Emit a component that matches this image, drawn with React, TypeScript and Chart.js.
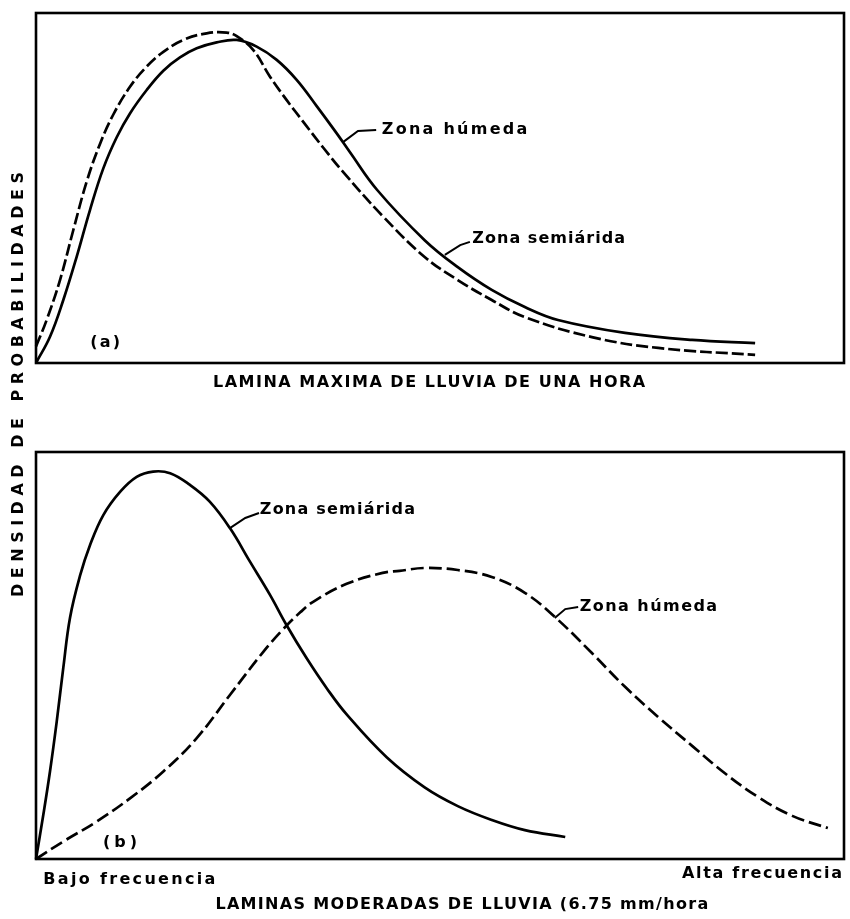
import React, { useEffect, useRef } from "react";
import { Chart, registerables } from "chart.js";

Chart.register(...registerables);

const PAGE_W = 850;
const PAGE_H = 919;

// ---------- Panel (a): lámina máxima de lluvia de una hora ----------
const humedaA_x = [0, 1.73, 3.38, 5.04, 6.68, 8.33, 9.99, 11.63, 13.7, 15.76, 17.82, 19.89, 22.36, 24.84, 27.31, 29.79, 32.26, 34.74, 37.22, 38.86, 42.2, 48.1, 52.2, 56.4, 60.5, 64.6, 72.9, 81.2, 89.0];
const humedaA_y = [0, 7.5, 18.0, 30.4, 43.7, 55.6, 64.5, 71.3, 78.0, 83.5, 87.3, 89.9, 91.6, 92.3, 90.4, 86.6, 80.9, 73.4, 65.6, 60.2, 49.5, 35.1, 27.4, 20.9, 16, 12.3, 8.6, 6.6, 5.7];

const semiaridaA_x = [0, 1.32, 2.97, 4.62, 6.27, 7.92, 9.57, 11.63, 13.7, 15.76, 18.23, 21.12, 23.6, 24.84, 26.9, 28.96, 31.03, 33.08, 35.56, 38.0, 42.9, 48.1, 52.2, 56.4, 60.5, 68.8, 77.0, 89.0];
const semiaridaA_y = [4.7, 12.3, 23.7, 38, 51.8, 62.6, 71.0, 78.9, 84.7, 88.9, 92.3, 94.2, 94.4, 93.4, 89.4, 81.8, 75.1, 68.9, 61.5, 54.6, 42.0, 30.3, 23.7, 18, 13.1, 7.4, 4.3, 2.3];

// ---------- Panel (b): láminas moderadas de lluvia ----------
const semiaridaB_x = [0, 0.9, 1.73, 2.56, 3.38, 4.21, 5.45, 6.68, 8.33, 10.4, 12.46, 14.5, 16.6, 19.06, 21.5, 24.0, 26.5, 28.96, 31.0, 33.5, 36.0, 38.5, 43.4, 48.1, 52.2, 56.4, 60.5, 65.5];
const semiaridaB_y = [0, 10.8, 21.5, 33.7, 47.0, 59.3, 69.6, 77.1, 84.5, 90.2, 93.9, 95.2, 94.8, 91.9, 87.8, 81.3, 73.0, 64.9, 57.5, 49.3, 41.9, 35.4, 25.0, 17.6, 13.0, 9.6, 7.1, 5.4];

const humedaB_x = [0, 3.38, 7.51, 11.63, 15.76, 19.89, 24.0, 28.13, 30.6, 32.7, 34.3, 38.45, 42.9, 45.0, 48.1, 52.2, 56.4, 60.5, 64.2, 68.8, 72.9, 77.0, 81.2, 85.3, 89.4, 93.6, 98.0];
const humedaB_y = [0, 4.3, 9.2, 14.9, 21.5, 29.7, 40.3, 50.9, 56.5, 60.6, 63.2, 67.6, 70.3, 70.8, 71.5, 71, 69.3, 65.4, 59.5, 50.6, 42.3, 34.9, 27.8, 21.0, 15.2, 10.6, 7.6];

// ---------- Texts ----------
const labelHumeda = "Zona húmeda";
const labelSemiarida = "Zona semiárida";
const tagA = "(a)";
const tagB = "(b)";
const xTitleA = "LAMINA MAXIMA DE LLUVIA DE UNA HORA";
const xTitleB = "LAMINAS MODERADAS DE LLUVIA (6.75 mm/hora";
const lowFreq = "Bajo frecuencia";
const highFreq = "Alta frecuencia";
const yTitle = "DENSIDAD DE PROBABILIDADES";

const FONT = "'DejaVu Sans', 'Liberation Sans', sans-serif";

type Label = { text: string; x0: number; x1: number; y: number; size: number };
type Leader = { pts: [number, number][] };

function fitText(ctx: CanvasRenderingContext2D, text: string, x0: number, x1: number, y: number, size: number) {
  ctx.save();
  ctx.font = `bold ${size}px ${FONT}`;
  (ctx as any).letterSpacing = "0px";
  const w = ctx.measureText(text).width;
  const n = Array.from(text).length;
  const sp = n > 1 ? (x1 - x0 - w) / (n - 1) : 0;
  (ctx as any).letterSpacing = `${sp}px`;
  ctx.fillStyle = "#000";
  ctx.textAlign = "left";
  ctx.textBaseline = "middle";
  ctx.fillText(text, x0, y);
  ctx.restore();
}

const panelPlugin = {
  id: "panel",
  afterDraw(chart: any, _args: any, opts: any) {
    const ctx: CanvasRenderingContext2D = chart.ctx;
    const { left, right, top, bottom } = chart.chartArea;
    const xs = chart.scales.x;
    const ys = chart.scales.y;
    ctx.save();
    ctx.strokeStyle = "#000";
    ctx.lineWidth = 2.6;
    ctx.setLineDash([]);
    ctx.strokeRect(left, top, right - left, bottom - top);

    ctx.lineWidth = 2;
    (opts.leaders || []).forEach((l: Leader) => {
      ctx.beginPath();
      l.pts.forEach(([x, y], i) => {
        const px = xs.getPixelForValue(x);
        const py = ys.getPixelForValue(y);
        if (i === 0) ctx.moveTo(px, py);
        else ctx.lineTo(px, py);
      });
      ctx.stroke();
    });
    ctx.restore();

    (opts.labels || []).forEach((lb: Label) => {
      fitText(ctx, lb.text, xs.getPixelForValue(lb.x0), xs.getPixelForValue(lb.x1), ys.getPixelForValue(lb.y), lb.size);
    });

    if (opts.rotated) {
      const r = opts.rotated;
      ctx.save();
      ctx.translate(r.x, r.yBottom);
      ctx.rotate(-Math.PI / 2);
      fitText(ctx, r.text, 0, r.yBottom - r.yTop, 0, r.size);
      ctx.restore();
    }
  },
};

function pts(xs: number[], ys: number[]) {
  return xs.map((x, i) => ({ x, y: ys[i] }));
}

function lineDs(label: string, xs: number[], ys: number[], dash: number[]) {
  return {
    label,
    data: pts(xs, ys),
    borderColor: "#000",
    backgroundColor: "#000",
    borderWidth: 2.7,
    borderDash: dash,
    pointRadius: 0,
    tension: 0.4,
    fill: false,
    clip: false as any,
  };
}

function makeConfig(datasets: any[], padding: any, panelOpts: any) {
  return {
    type: "line" as const,
    data: { datasets },
    options: {
      animation: false as const,
      responsive: false,
      devicePixelRatio: 1,
      events: [],
      layout: { padding },
      scales: {
        x: { type: "linear" as const, min: 0, max: 100, display: false },
        y: { type: "linear" as const, min: 0, max: 100, display: false },
      },
      plugins: {
        legend: { display: false },
        tooltip: { enabled: false },
        panel: panelOpts,
      },
    },
    plugins: [panelPlugin],
  };
}

export default function App() {
  const refA = useRef<HTMLCanvasElement>(null);
  const refB = useRef<HTMLCanvasElement>(null);

  useEffect(() => {
    const chartA = new Chart(
      refA.current!,
      makeConfig(
        [
          lineDs(labelHumeda, humedaA_x, humedaA_y, []),
          lineDs(labelSemiarida, semiaridaA_x, semiaridaA_y, [12, 4]),
        ],
        { left: 36, right: 6, top: 13, bottom: PAGE_H - 363 },
        {
          labels: [
            { text: labelHumeda, x0: 42.8, x1: 60.8, y: 66.6, size: 16 },
            { text: labelSemiarida, x0: 54.0, x1: 72.9, y: 35.4, size: 16 },
            { text: tagA, x0: 6.7, x1: 10.4, y: 5.7, size: 16 },
            { text: xTitleA, x0: 21.9, x1: 75.4, y: -5.6, size: 16 },
          ],
          leaders: [
            { pts: [[38.0, 63.1], [39.85, 66.3], [42.1, 66.6]] },
            { pts: [[50.6, 30.9], [52.5, 33.7], [53.7, 34.6]] },
          ],
          rotated: { text: yTitle, x: 19, yTop: 172, yBottom: 597, size: 16 },
        }
      ) as any
    );
    const chartB = new Chart(
      refB.current!,
      makeConfig(
        [
          lineDs(labelSemiarida, semiaridaB_x, semiaridaB_y, []),
          lineDs(labelHumeda, humedaB_x, humedaB_y, [13, 5]),
        ],
        { left: 36, right: 6, top: 452, bottom: PAGE_H - 859 },
        {
          labels: [
            { text: labelSemiarida, x0: 27.7, x1: 46.9, y: 85.7, size: 16 },
            { text: labelHumeda, x0: 67.3, x1: 84.3, y: 61.9, size: 16 },
            { text: tagB, x0: 8.3, x1: 12.5, y: 3.9, size: 16 },
            { text: lowFreq, x0: 0.9, x1: 22.2, y: -5.2, size: 16 },
            { text: highFreq, x0: 79.95, x1: 99.75, y: -3.7, size: 16 },
            { text: xTitleB, x0: 22.2, x1: 83.2, y: -11.3, size: 16 },
          ],
          leaders: [
            { pts: [[24.0, 81.3], [25.9, 83.8], [27.6, 85.0]] },
            { pts: [[64.2, 59.2], [65.5, 61.4], [67.1, 61.9]] },
          ],
        }
      ) as any
    );
    return () => {
      chartA.destroy();
      chartB.destroy();
    };
  }, []);

  const style: React.CSSProperties = { position: "absolute", left: 0, top: 0 };
  return (
    <div style={{ position: "absolute", left: 0, top: 0, width: PAGE_W, height: PAGE_H, background: "#fff" }}>
      <canvas ref={refA} width={PAGE_W} height={PAGE_H} style={style} />
      <canvas ref={refB} width={PAGE_W} height={PAGE_H} style={style} />
    </div>
  );
}
